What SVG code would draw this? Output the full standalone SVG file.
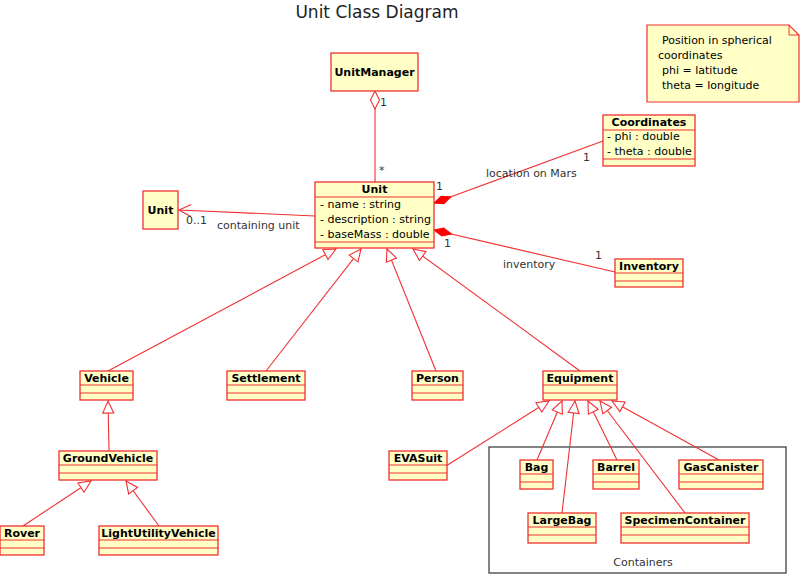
<svg xmlns="http://www.w3.org/2000/svg" width="800" height="574" viewBox="0 0 800 574">
<defs>
<style>
.box{fill:#FFFFC6;stroke:#F03030;stroke-width:1.3}
.sep{stroke:#F03030;stroke-width:1.2}
.nm{font-family:"DejaVu Sans",sans-serif;font-size:11px;font-weight:bold;fill:#000;text-anchor:middle}
.at{font-family:"DejaVu Sans",sans-serif;font-size:11px;fill:#000}
.lb{font-family:"DejaVu Sans",sans-serif;font-size:11px;fill:#333}
.e{stroke:#F03030;stroke-width:1.1;fill:none}
</style>
<marker id="tri" markerUnits="userSpaceOnUse" markerWidth="16" markerHeight="14" refX="1" refY="6" orient="auto" overflow="visible">
<path d="M1,6 L13,0.5 L13,11.5 Z" fill="#fff" stroke="#F03030" stroke-width="1.1"/>
</marker>
<marker id="hdia" markerUnits="userSpaceOnUse" markerWidth="20" markerHeight="12" refX="0" refY="5" orient="auto" overflow="visible">
<path d="M0,5 L9,0.5 L18,5 L9,9.5 Z" fill="#fff" stroke="#F03030" stroke-width="1.1"/>
</marker>
<marker id="fdia" markerUnits="userSpaceOnUse" markerWidth="20" markerHeight="12" refX="0" refY="5" orient="auto" overflow="visible">
<path d="M0,5 L9,1 L18,5 L9,9 Z" fill="#F00" stroke="#F00" stroke-width="1"/>
</marker>
<marker id="open" markerUnits="userSpaceOnUse" markerWidth="16" markerHeight="14" refX="0" refY="6" orient="auto" overflow="visible">
<path d="M12,0 L0,6 L12,12" fill="none" stroke="#F03030" stroke-width="1.1"/>
</marker>
</defs>
<rect width="800" height="574" fill="#fff"/>
<text x="377" y="18" font-family="DejaVu Sans,sans-serif" font-size="17" fill="#222" text-anchor="middle">Unit Class Diagram</text>

<g id="containers">
<rect x="489" y="447" width="297" height="126" fill="none" stroke="#333" stroke-width="1.2"/>
<text x="643" y="566" class="lb" text-anchor="middle">Containers</text>
</g>

<g id="connectors">
<line class="e" x1="375" y1="91" x2="375" y2="182" marker-start="url(#hdia)"/>
<text x="380" y="106" class="lb">1</text>
<text x="379" y="174" class="lb">*</text>
<line class="e" x1="434" y1="203" x2="603" y2="141" marker-start="url(#fdia)"/>
<text x="436" y="190" class="lb">1</text>
<text x="583" y="161" class="lb">1</text>
<text x="486" y="177" class="lb">location on Mars</text>
<line class="e" x1="434" y1="230" x2="615" y2="272" marker-start="url(#fdia)"/>
<text x="444" y="247" class="lb">1</text>
<text x="595" y="259" class="lb">1</text>
<text x="503" y="268" class="lb">inventory</text>
<line class="e" x1="179" y1="210" x2="315" y2="216" marker-start="url(#open)"/>
<text x="186" y="224" class="lb">0..1</text>
<text x="217" y="229" class="lb">containing unit</text>
<line class="e" x1="336" y1="249" x2="108" y2="371" marker-start="url(#tri)"/>
<line class="e" x1="361" y1="249" x2="266" y2="371" marker-start="url(#tri)"/>
<line class="e" x1="387" y1="249" x2="436" y2="371" marker-start="url(#tri)"/>
<line class="e" x1="413" y1="249" x2="580" y2="371" marker-start="url(#tri)"/>
<line class="e" x1="108" y1="401" x2="109" y2="451" marker-start="url(#tri)"/>
<line class="e" x1="91" y1="481" x2="23" y2="526" marker-start="url(#tri)"/>
<line class="e" x1="126" y1="481" x2="159" y2="526" marker-start="url(#tri)"/>
<line class="e" x1="549" y1="401" x2="446" y2="466" marker-start="url(#tri)"/>
<line class="e" x1="562" y1="401" x2="537" y2="460" marker-start="url(#tri)"/>
<line class="e" x1="575" y1="401" x2="562" y2="513" marker-start="url(#tri)"/>
<line class="e" x1="588" y1="401" x2="617" y2="460" marker-start="url(#tri)"/>
<line class="e" x1="600" y1="401" x2="685" y2="513" marker-start="url(#tri)"/>
<line class="e" x1="612" y1="401" x2="719" y2="460" marker-start="url(#tri)"/>
</g>

<g id="note">
<path d="M647,25 L789,25 L799,35 L799,102 L647,102 Z" fill="#FFFFC6" stroke="#F03030" stroke-width="1.2"/>
<path d="M789,25 L789,35 L799,35" fill="none" stroke="#F03030" stroke-width="1"/>
<text class="at" x="658" y="44"> <tspan x="662">Position in spherical</tspan></text>
<text class="at" x="658" y="59">coordinates</text>
<text class="at" x="662" y="74">phi = latitude</text>
<text class="at" x="662" y="89">theta = longitude</text>
</g>

<g id="UnitManager">
<rect class="box" x="331" y="53" width="87" height="38"/>
<text class="nm" x="374.5" y="76">UnitManager</text>
</g>

<g id="Unit">
<rect class="box" x="315" y="182" width="119" height="66"/>
<line class="sep" x1="315" y1="197" x2="434" y2="197"/>
<line class="sep" x1="315" y1="242" x2="434" y2="242"/>
<text class="nm" x="374.5" y="193">Unit</text>
<text class="at" x="320" y="208">- name : string</text>
<text class="at" x="320" y="223">- description : string</text>
<text class="at" x="320" y="238">- baseMass : double</text>
</g>

<g id="UnitSmall">
<rect class="box" x="143" y="191" width="35" height="38"/>
<text class="nm" x="160.5" y="214">Unit</text>
</g>

<g id="Coordinates">
<rect class="box" x="603" y="115" width="92" height="51"/>
<line class="sep" x1="603" y1="130" x2="695" y2="130"/>
<line class="sep" x1="603" y1="159" x2="695" y2="159"/>
<text class="nm" x="649" y="126">Coordinates</text>
<text class="at" x="607" y="140">- phi : double</text>
<text class="at" x="607" y="155">- theta : double</text>
</g>

<g id="Inventory">
<rect class="box" x="615" y="259" width="68" height="28"/>
<line class="sep" x1="615" y1="273" x2="683" y2="273"/>
<line class="sep" x1="615" y1="281" x2="683" y2="281"/>
<text class="nm" x="649" y="270">Inventory</text>
</g>

<g id="Vehicle">
<rect class="box" x="80" y="371" width="53" height="29"/>
<line class="sep" x1="80" y1="385" x2="133" y2="385"/>
<line class="sep" x1="80" y1="393" x2="133" y2="393"/>
<text class="nm" x="106.5" y="382">Vehicle</text>
</g>

<g id="Settlement">
<rect class="box" x="227" y="371" width="78" height="29"/>
<line class="sep" x1="227" y1="385" x2="305" y2="385"/>
<line class="sep" x1="227" y1="393" x2="305" y2="393"/>
<text class="nm" x="266" y="382">Settlement</text>
</g>

<g id="Person">
<rect class="box" x="412" y="371" width="51" height="29"/>
<line class="sep" x1="412" y1="385" x2="463" y2="385"/>
<line class="sep" x1="412" y1="393" x2="463" y2="393"/>
<text class="nm" x="437.5" y="382">Person</text>
</g>

<g id="Equipment">
<rect class="box" x="543" y="371" width="74" height="29"/>
<line class="sep" x1="543" y1="385" x2="617" y2="385"/>
<line class="sep" x1="543" y1="393" x2="617" y2="393"/>
<text class="nm" x="580" y="382">Equipment</text>
</g>

<g id="GroundVehicle">
<rect class="box" x="59" y="451" width="98" height="29"/>
<line class="sep" x1="59" y1="465" x2="157" y2="465"/>
<line class="sep" x1="59" y1="473" x2="157" y2="473"/>
<text class="nm" x="108" y="462">GroundVehicle</text>
</g>

<g id="Rover">
<rect class="box" x="0" y="526" width="44" height="29"/>
<line class="sep" x1="0" y1="540" x2="44" y2="540"/>
<line class="sep" x1="0" y1="548" x2="44" y2="548"/>
<text class="nm" x="22" y="537">Rover</text>
</g>

<g id="LightUtilityVehicle">
<rect class="box" x="99" y="526" width="119" height="29"/>
<line class="sep" x1="99" y1="540" x2="218" y2="540"/>
<line class="sep" x1="99" y1="548" x2="218" y2="548"/>
<text class="nm" x="158.5" y="537">LightUtilityVehicle</text>
</g>

<g id="EVASuit">
<rect class="box" x="389" y="451" width="58" height="29"/>
<line class="sep" x1="389" y1="465" x2="447" y2="465"/>
<line class="sep" x1="389" y1="473" x2="447" y2="473"/>
<text class="nm" x="418" y="462">EVASuit</text>
</g>

<g id="Bag">
<rect class="box" x="520" y="460" width="33" height="29"/>
<line class="sep" x1="520" y1="474" x2="553" y2="474"/>
<line class="sep" x1="520" y1="482" x2="553" y2="482"/>
<text class="nm" x="536.5" y="471">Bag</text>
</g>

<g id="Barrel">
<rect class="box" x="593" y="460" width="46" height="29"/>
<line class="sep" x1="593" y1="474" x2="639" y2="474"/>
<line class="sep" x1="593" y1="482" x2="639" y2="482"/>
<text class="nm" x="616" y="471">Barrel</text>
</g>

<g id="GasCanister">
<rect class="box" x="679" y="460" width="84" height="29"/>
<line class="sep" x1="679" y1="474" x2="763" y2="474"/>
<line class="sep" x1="679" y1="482" x2="763" y2="482"/>
<text class="nm" x="721" y="471">GasCanister</text>
</g>

<g id="LargeBag">
<rect class="box" x="528" y="513" width="68" height="30"/>
<line class="sep" x1="528" y1="527" x2="596" y2="527"/>
<line class="sep" x1="528" y1="535" x2="596" y2="535"/>
<text class="nm" x="562" y="524">LargeBag</text>
</g>

<g id="SpecimenContainer">
<rect class="box" x="621" y="513" width="128" height="30"/>
<line class="sep" x1="621" y1="527" x2="749" y2="527"/>
<line class="sep" x1="621" y1="535" x2="749" y2="535"/>
<text class="nm" x="685" y="524">SpecimenContainer</text>
</g>
</svg>
